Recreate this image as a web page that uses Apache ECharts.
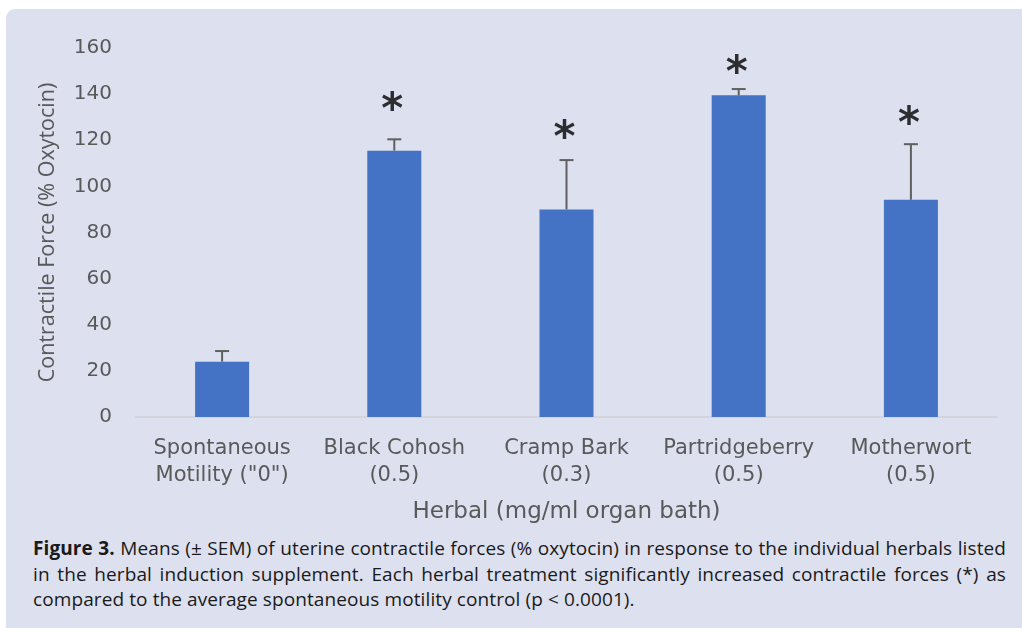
<!DOCTYPE html>
<html>
<head>
<meta charset="utf-8">
<script src="https://cdn.jsdelivr.net/npm/echarts@6/dist/echarts.min.js"></script>
<style>
  html, body { margin: 0; padding: 0; background: #ffffff; }
  body { width: 1022px; height: 628px; position: relative; overflow: hidden; }
  .panel {
    position: absolute; left: 6px; top: 9px; right: -10px; bottom: -10px;
    background: #dde0ef; border-radius: 9px;
  }
  #chart { position: absolute; left: 0; top: 0; width: 1022px; height: 530px; }
  .caption {
    position: absolute; left: 33px; width: 973px; top: 536px;
    font-family: "Open Sans", sans-serif; font-size: 19px; line-height: 25.5px; color: #1a1a1a;
    letter-spacing: 0.1px;
  }
  .caption .j { text-align: justify; text-align-last: justify; white-space: nowrap; }
  .caption .l { text-align: left; white-space: nowrap; }
</style>
</head>
<body>
<div class="panel"></div>
<div id="chart"></div>
<div class="caption">
  <div class="j"><b>Figure 3.</b> Means (± SEM) of uterine contractile forces (% oxytocin) in response to the individual herbals listed</div>
  <div class="j">in the herbal induction supplement. Each herbal treatment significantly increased contractile forces (*) as</div>
  <div class="l">compared to the average spontaneous motility control (p &lt; 0.0001).</div>
</div>
<script>
const categories = [
  'Spontaneous\nMotility ("0")',
  "Black Cohosh\n(0.5)",
  "Cramp Bark\n(0.3)",
  "Partridgeberry\n(0.5)",
  "Motherwort\n(0.5)",
];
const means = [24, 115.5, 90, 139.5, 94.2];
const sem = [4.6, 4.9, 21.4, 2.7, 24.1];
const starLevels = [null, 136, 124, 152, 130];
const yTicks = { min: 0, max: 160, interval: 20 };

const textColor = "#595959";
const sansFont = "'Open Sans', sans-serif";
const wideFont = "'DejaVu Sans', sans-serif";

const chart = echarts.init(document.getElementById("chart"));

chart.setOption({
  backgroundColor: "transparent",
  animation: false,
  grid: { left: 136, right: 25, top: 48, bottom: 113 },
  xAxis: {
    type: "category",
    data: categories,
    name: "Herbal (mg/ml organ bath)",
    nameLocation: "middle",
    nameGap: 84,
    nameTextStyle: { color: textColor, fontSize: 23, fontFamily: wideFont },
    axisLine: { lineStyle: { color: "#d4d5dc", width: 2 } },
    axisTick: { show: false },
    axisLabel: {
      interval: 0,
      color: textColor,
      fontSize: 21,
      fontFamily: wideFont,
      lineHeight: 27,
      margin: 18,
    },
  },
  yAxis: {
    type: "value",
    ...yTicks,
    name: "Contractile Force (% Oxytocin)",
    nameLocation: "middle",
    nameGap: 77,
    nameTextStyle: { color: textColor, fontSize: 21.5, fontFamily: sansFont },
    axisLine: { show: false },
    axisTick: { show: false },
    splitLine: { show: false },
    axisLabel: { color: textColor, fontSize: 20, fontFamily: wideFont, margin: 24 },
  },
  series: [
    {
      type: "bar",
      data: means,
      barWidth: 54,
      itemStyle: { color: "#4472c4" },
      z: 2,
    },
    {
      type: "custom",
      z: 3,
      data: means.map((m, i) => [i, m, m + sem[i]]),
      renderItem: (params, api) => {
        const base = api.coord([api.value(0), api.value(1)]);
        const top = api.coord([api.value(0), api.value(2)]);
        const x = base[0];
        const half = 7;
        const style = { stroke: "#5f5f5f", lineWidth: 2 };
        return {
          type: "group",
          children: [
            { type: "line", shape: { x1: x, y1: base[1], x2: x, y2: top[1] }, style },
            { type: "line", shape: { x1: x - half, y1: top[1], x2: x + half, y2: top[1] }, style },
          ],
        };
      },
    },
    {
      type: "scatter",
      data: starLevels,
      symbolSize: 0,
      z: 4,
      label: {
        show: true,
        position: "inside",
        formatter: "*",
        color: "#000000",
        fontSize: 42,
        fontWeight: "bold",
        fontFamily: wideFont,
        offset: [-2, 9],
      },
    },
  ],
});
</script>
</body>
</html>
